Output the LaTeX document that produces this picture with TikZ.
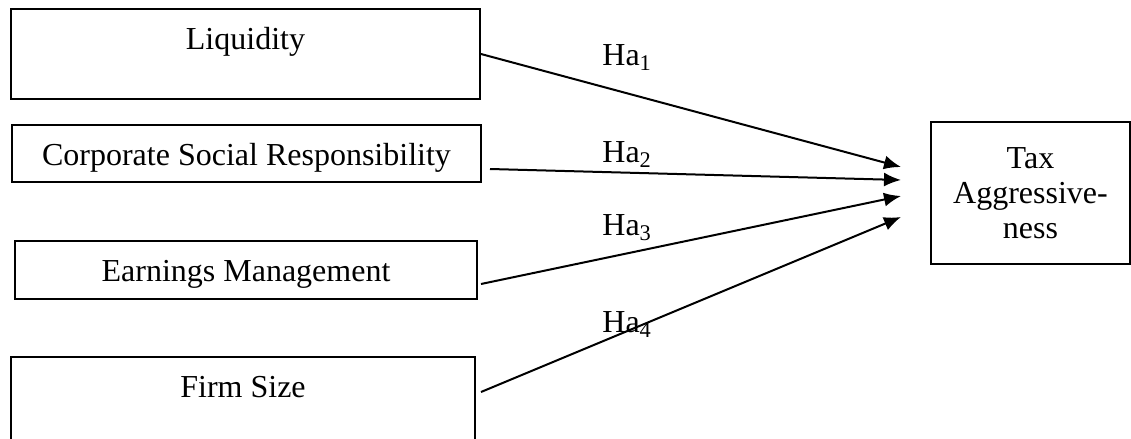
\documentclass[tikz,border=0pt]{standalone}
\usepackage{fontspec}
\setmainfont{Liberation Serif}
\usepackage{tikz}
\usetikzlibrary{shapes,arrows.meta}
\tikzstyle{block} = [rectangle, draw, line width=1pt, text height=12pt,
    inner xsep=0pt, inner ysep=8pt, font=\fontsize{16}{18}\selectfont]
\tikzstyle{target} = [rectangle, draw, line width=1pt, align=center,
    minimum width=99.5pt, minimum height=71pt, font=\fontsize{16}{17.5}\selectfont]
\tikzstyle{hyp} = [anchor=base west, inner sep=0pt, font=\fontsize{16}{18}\selectfont]
\tikzstyle{line} = [draw, line width=1pt, -{Latex[length=8.5pt,width=7pt]}]

\begin{document}
\begin{tikzpicture}[x=0.5pt, y=-0.5pt]
    \useasboundingbox (0,0) rectangle (1131,439);
    % Place nodes
    \node [block, minimum width=234.5pt, text depth=17pt] (liquidity) at (245.5,54) {Liquidity};
    \node [block, minimum width=234.5pt, text depth=0.5pt] (csr) at (246.5,153.5) {Corporate Social Responsibility\hspace{9pt}};
    \node [block, minimum width=231pt, text depth=1pt] (em) at (246,270) {Earnings Management};
    \node [block, minimum width=232pt, text depth=17pt] (firm) at (243,402) {Firm Size};
    \node [target] (tax) at (1030.5,193) {Tax\\Aggressive-\\ness};

    \node [hyp] (ha1) at (602,65) {Ha\textsubscript{1}};
    \node [hyp] (ha2) at (602,162) {Ha\textsubscript{2}};
    \node [hyp] (ha3) at (602,235) {Ha\textsubscript{3}};
    \node [hyp] (ha4) at (602,332) {Ha\textsubscript{4}};

    \coordinate (t1) at ([xshift=-14.5pt, yshift=13pt]tax.west);
    \coordinate (t2) at ([xshift=-14.5pt, yshift=6.5pt]tax.west);
    \coordinate (t3) at ([xshift=-14.5pt, yshift=-1.5pt]tax.west);
    \coordinate (t4) at ([xshift=-14.5pt, yshift=-12pt]tax.west);

    % Draw edges
    \path [line] (liquidity.east) -- (t1);
    \path [line] ([xshift=4pt, yshift=7pt]csr.south east) -- (t2);
    \path [line] ([xshift=1.5pt, yshift=8pt]em.south east) -- (t3);
    \path [line] ([xshift=2.5pt, yshift=-18pt]firm.north east) -- (t4);
\end{tikzpicture}
\end{document}
